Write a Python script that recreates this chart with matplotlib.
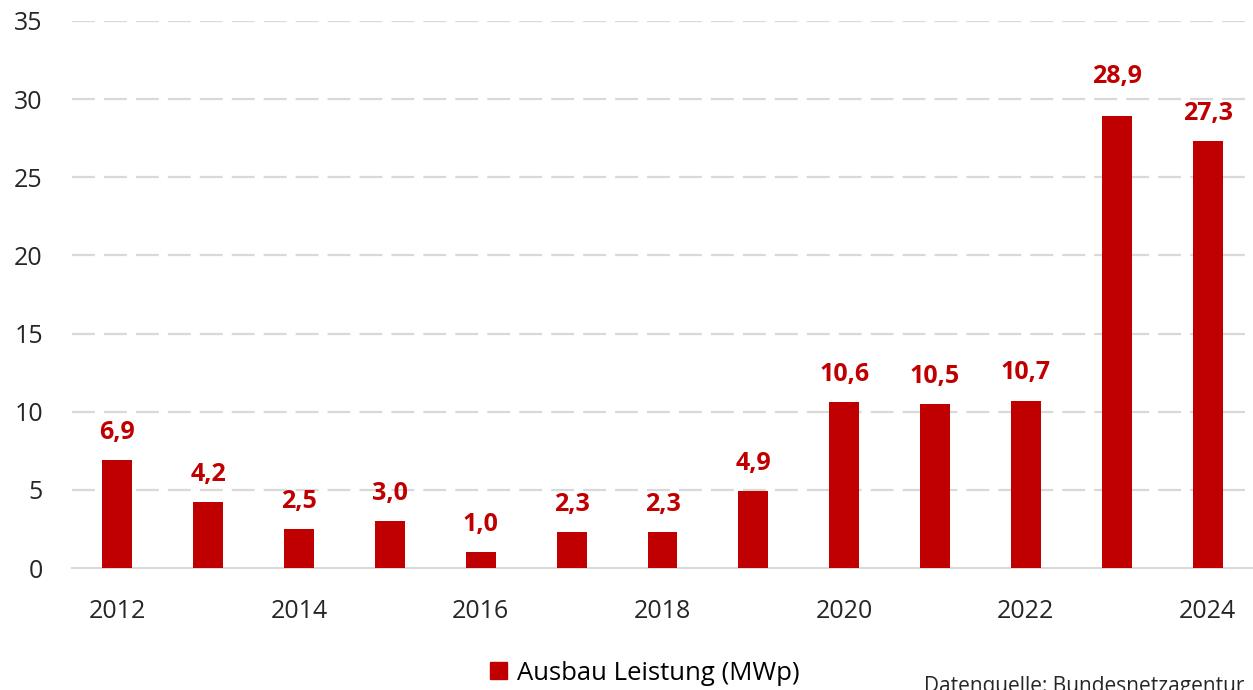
import matplotlib
matplotlib.use("Agg")
import matplotlib.pyplot as plt
from matplotlib.patches import Patch

years = [2012, 2013, 2014, 2015, 2016, 2017, 2018, 2019, 2020, 2021, 2022, 2023, 2024]
values = [6.9, 4.2, 2.5, 3.0, 1.0, 2.3, 2.3, 4.9, 10.6, 10.5, 10.7, 28.9, 27.3]
yticks = [0, 5, 10, 15, 20, 25, 30, 35]
series_name = "Ausbau Leistung (MWp)"
source_text = "Datenquelle: Bundesnetzagentur"

RED = "#C00000"
GRID = "#D9D9D9"
plt.rcParams['font.family'] = ['Open Sans', 'DejaVu Sans']

fig = plt.figure(figsize=(12.53, 6.9), dpi=100)
ax = fig.add_axes([72/1253, 122/690, 1181/1253, 547/690])

x = list(range(len(years)))
ax.bar(x, values, width=0.33, color=RED, zorder=3)

# label offsets (points); the 2023 label sits higher in the original
label_offsets = [11] * len(values)
label_offsets[11] = 20
for xi, v, off in zip(x, values, label_offsets):
    ax.annotate(f"{v:.1f}".replace(".", ","), (xi, v), xytext=(0, off),
                textcoords="offset points", ha="center", va="bottom",
                color=RED, fontsize=18, fontweight="bold")

ax.set_xlim(-0.5, len(years) - 0.5)
ax.set_ylim(0, 35)
ax.set_yticks(yticks)
ax.set_yticklabels([str(t) for t in yticks])
ax.set_xticks(x[::2])
ax.set_xticklabels([str(y) for y in years[::2]])
ax.tick_params(axis="both", length=0, labelsize=18, colors="#262626")
ax.tick_params(axis="y", pad=21)
ax.tick_params(axis="x", pad=22)

lw = 1.6
for t in yticks[1:]:
    ax.axhline(t, color=GRID, lw=lw, linestyle=(0, (16.5/lw, 6.5/lw)), zorder=1)

for s in ["top", "right", "left"]:
    ax.spines[s].set_visible(False)
ax.spines["bottom"].set_color(GRID)
ax.spines["bottom"].set_linewidth(1.5)

fig.legend(handles=[Patch(color=RED)], labels=[series_name],
           loc="center", bbox_to_anchor=(645/1253, 1 - 673/690),
           frameon=False, fontsize=18.5, handlelength=0.65, handleheight=0.65,
           handletextpad=0.4)

fig.text(924/1253, 1 - 676/690, source_text, ha="left", va="top",
         fontsize=15, color="#262626")

fig.savefig("out.png", dpi=100)
